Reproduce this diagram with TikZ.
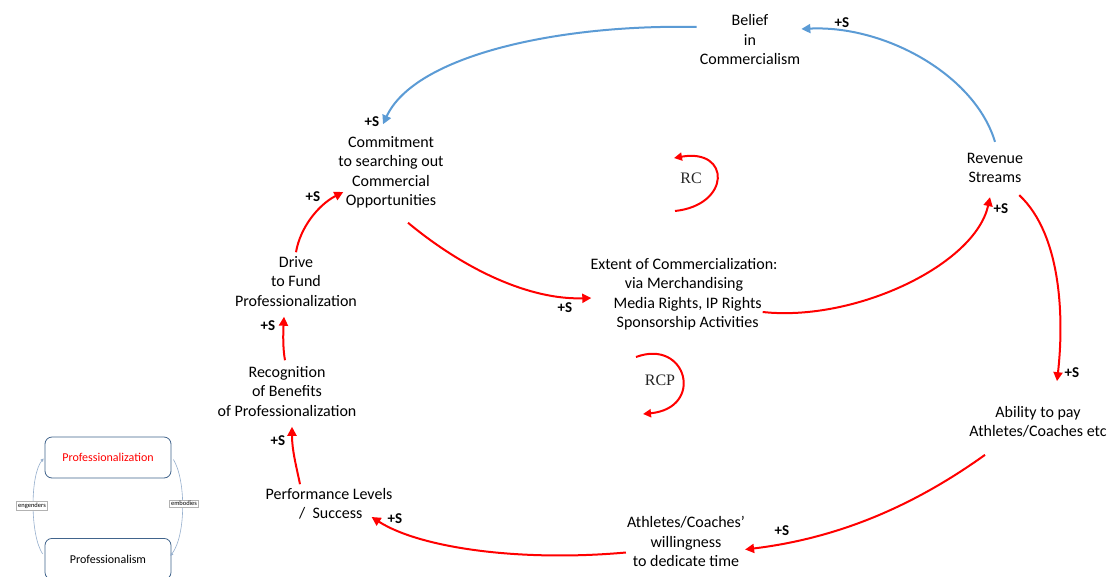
\documentclass[tikz,border=0pt]{standalone}
\usepackage{fontspec}
\setmainfont{Carlito}
\newfontfamily\timesf{Liberation Serif}
\usetikzlibrary{arrows.meta,calc}
\definecolor{cldred}{RGB}{255,0,0}
\definecolor{cldblue}{RGB}{91,155,213}
\definecolor{boxedge}{RGB}{65,100,140}
\definecolor{thinblue}{RGB}{150,175,205}
\begin{document}
\begin{tikzpicture}[x=1pt,y=-1pt,
  var/.style={align=center,inner sep=0pt,font=\fontsize{16}{19.5}\selectfont},
  pol/.style={inner sep=0pt,font=\fontsize{15}{17}\selectfont\bfseries},
  redlink/.style={draw=cldred,line width=2pt,-{Triangle[length=9pt,width=9pt]}},
  bluelink/.style={draw=cldblue,line width=2pt,-{Triangle[length=9pt,width=9pt]}},
  loopname/.style={inner sep=0pt,font=\timesf\fontsize{16}{18}\selectfont,text=black!85},
  inbox/.style={draw=boxedge,rounded corners=7pt,line width=0.8pt,minimum width=126pt,minimum height=41pt,inner sep=0pt,font=\fontsize{12}{14}\selectfont},
  tag/.style={draw=black!30,fill=white,line width=0.4pt,inner sep=1.5pt,font=\fontsize{6.5}{7}\selectfont},
  thinlink/.style={draw=thinblue,line width=0.6pt,-{Triangle[length=3pt,width=3pt]}}
]
\useasboundingbox[fill=white] (0,0) rectangle (1111,576);

% variables
\node[var] (belief) at (750,40) {Belief\\in\\Commercialism};
\node[var] (commit) at (391,172.5) {Commitment\\to searching out\\Commercial\\Opportunities};
\node[var] (drive) at (296,281.5) {Drive\\to Fund\\Professionalization};
\node[var] (recog) at (287,391.5) {Recognition\\of Benefits\\of Professionalization};
\node[var] (perf) at (329,504) {Performance Levels\\\ /\ \ Success};
\node[var] (will) at (686,541.5) {Athletes/Coaches'\\willingness\\to dedicate time};
\node[var] (ability) at (1038,422) {Ability to pay\\Athletes/Coaches etc};
\node[var] (rev) at (995,168) {Revenue\\Streams};
\node[var] (extent) at (684,294) {Extent of Commercialization:\\via Merchandising\\\ \ Media Rights, IP Rights\\\ \ Sponsorship Activities};

% loop markers
\node[loopname] (rc) at (691,178) {RC};
\node[loopname] (rcp) at (660,380) {RCP};
\coordinate (rcs) at ($(rc)+(-16,33)$);
\coordinate (rce) at ($(rc)+(-17,-20)$);
\draw[redlink,-{Triangle[length=8pt,width=8pt]}] (rcs) .. controls ($(rc)+(40,27)$) and ($(rc)+(40,-30)$) .. (rce);
\coordinate (rcps) at ($(rcp)+(-24,-23)$);
\coordinate (rcpe) at ($(rcp)+(-17,34)$);
\draw[redlink,-{Triangle[length=8pt,width=8pt]}] (rcps) .. controls ($(rcp)+(27,-42)$) and ($(rcp)+(45,28)$) .. (rcpe);

% connectors
\draw[bluelink] ($(belief.west)+(-3,-13)$) .. controls (560,24) and (415,55) .. ($(commit.north)+(-8,-12)$);
\draw[bluelink] ($(rev.north)+(0,-11)$) .. controls (975,75) and (885,25) .. ($(belief.east)+(1,-11)$);
\draw[redlink] ($(commit.south)+(17,14)$) .. controls (465,270) and (530,300) .. ($(extent.west)+(1,4)$);
\draw[redlink] ($(extent.east)+(-15,18)$) .. controls (855,322) and (975,265) .. ($(rev.south)+(-5,14)$);
\draw[redlink] ($(rev.south east)+(-4,12)$) .. controls (1062,235) and (1064,320) .. ($(ability.north)+(19,-25)$);
\draw[redlink] ($(ability.south)+(-53,17)$) .. controls (915,505) and (840,538) .. ($(will.east)+(0,8)$);
\draw[redlink] ($(will.west)+(-1,11)$) .. controls (520,562) and (420,548) .. ($(perf.east)+(-21,13)$);
\draw[redlink] ($(perf.north)+(-29,-4)$) .. controls (296,465) and (292,450) .. ($(recog.south)+(5,10)$);
\draw[redlink] ($(recog.north)+(-2,-6)$) .. controls (283,350) and (283,335) .. ($(drive.south)+(-12,10)$);
\draw[redlink] ($(drive.north)+(0,-4)$) .. controls (300,228) and (318,205) .. ($(commit.west)+(5,19.5)$);

% polarity labels
\node[pol] (p1) at (372,122) {+S};
\node[pol] (p2) at (842,23) {+S};
\node[pol] (p3) at (565,308) {+S};
\node[pol] (p4) at (1001,209) {+S};
\node[pol] (p5) at (1072,373) {+S};
\node[pol] (p6) at (782,531) {+S};
\node[pol] (p7) at (395,519) {+S};
\node[pol] (p8) at (278,441) {+S};
\node[pol] (p9) at (268,326) {+S};
\node[pol] (p10) at (313,197) {+S};

% inset
\node[inbox,text=cldred] (pzn) at (108,457.5) {Professionalization};
\node[inbox,anchor=north] (psm) at (108,538) {};
\node[font=\fontsize{12}{14}\selectfont,inner sep=0pt] (psmt) at (108,559) {Professionalism};
\draw[thinlink] ($(psm.west)+(-2,-5)$) .. controls (30,535) and (30,475) .. ($(pzn.west)+(-1,1)$);
\draw[thinlink] ($(pzn.east)+(2,2)$) .. controls (186,480) and (186,535) .. ($(psm.east)+(-1,-3)$);
\node[tag] (eng) at (32,505.5) {engenders};
\node[tag] (emb) at (184,503.5) {embodies};
\end{tikzpicture}
\end{document}
